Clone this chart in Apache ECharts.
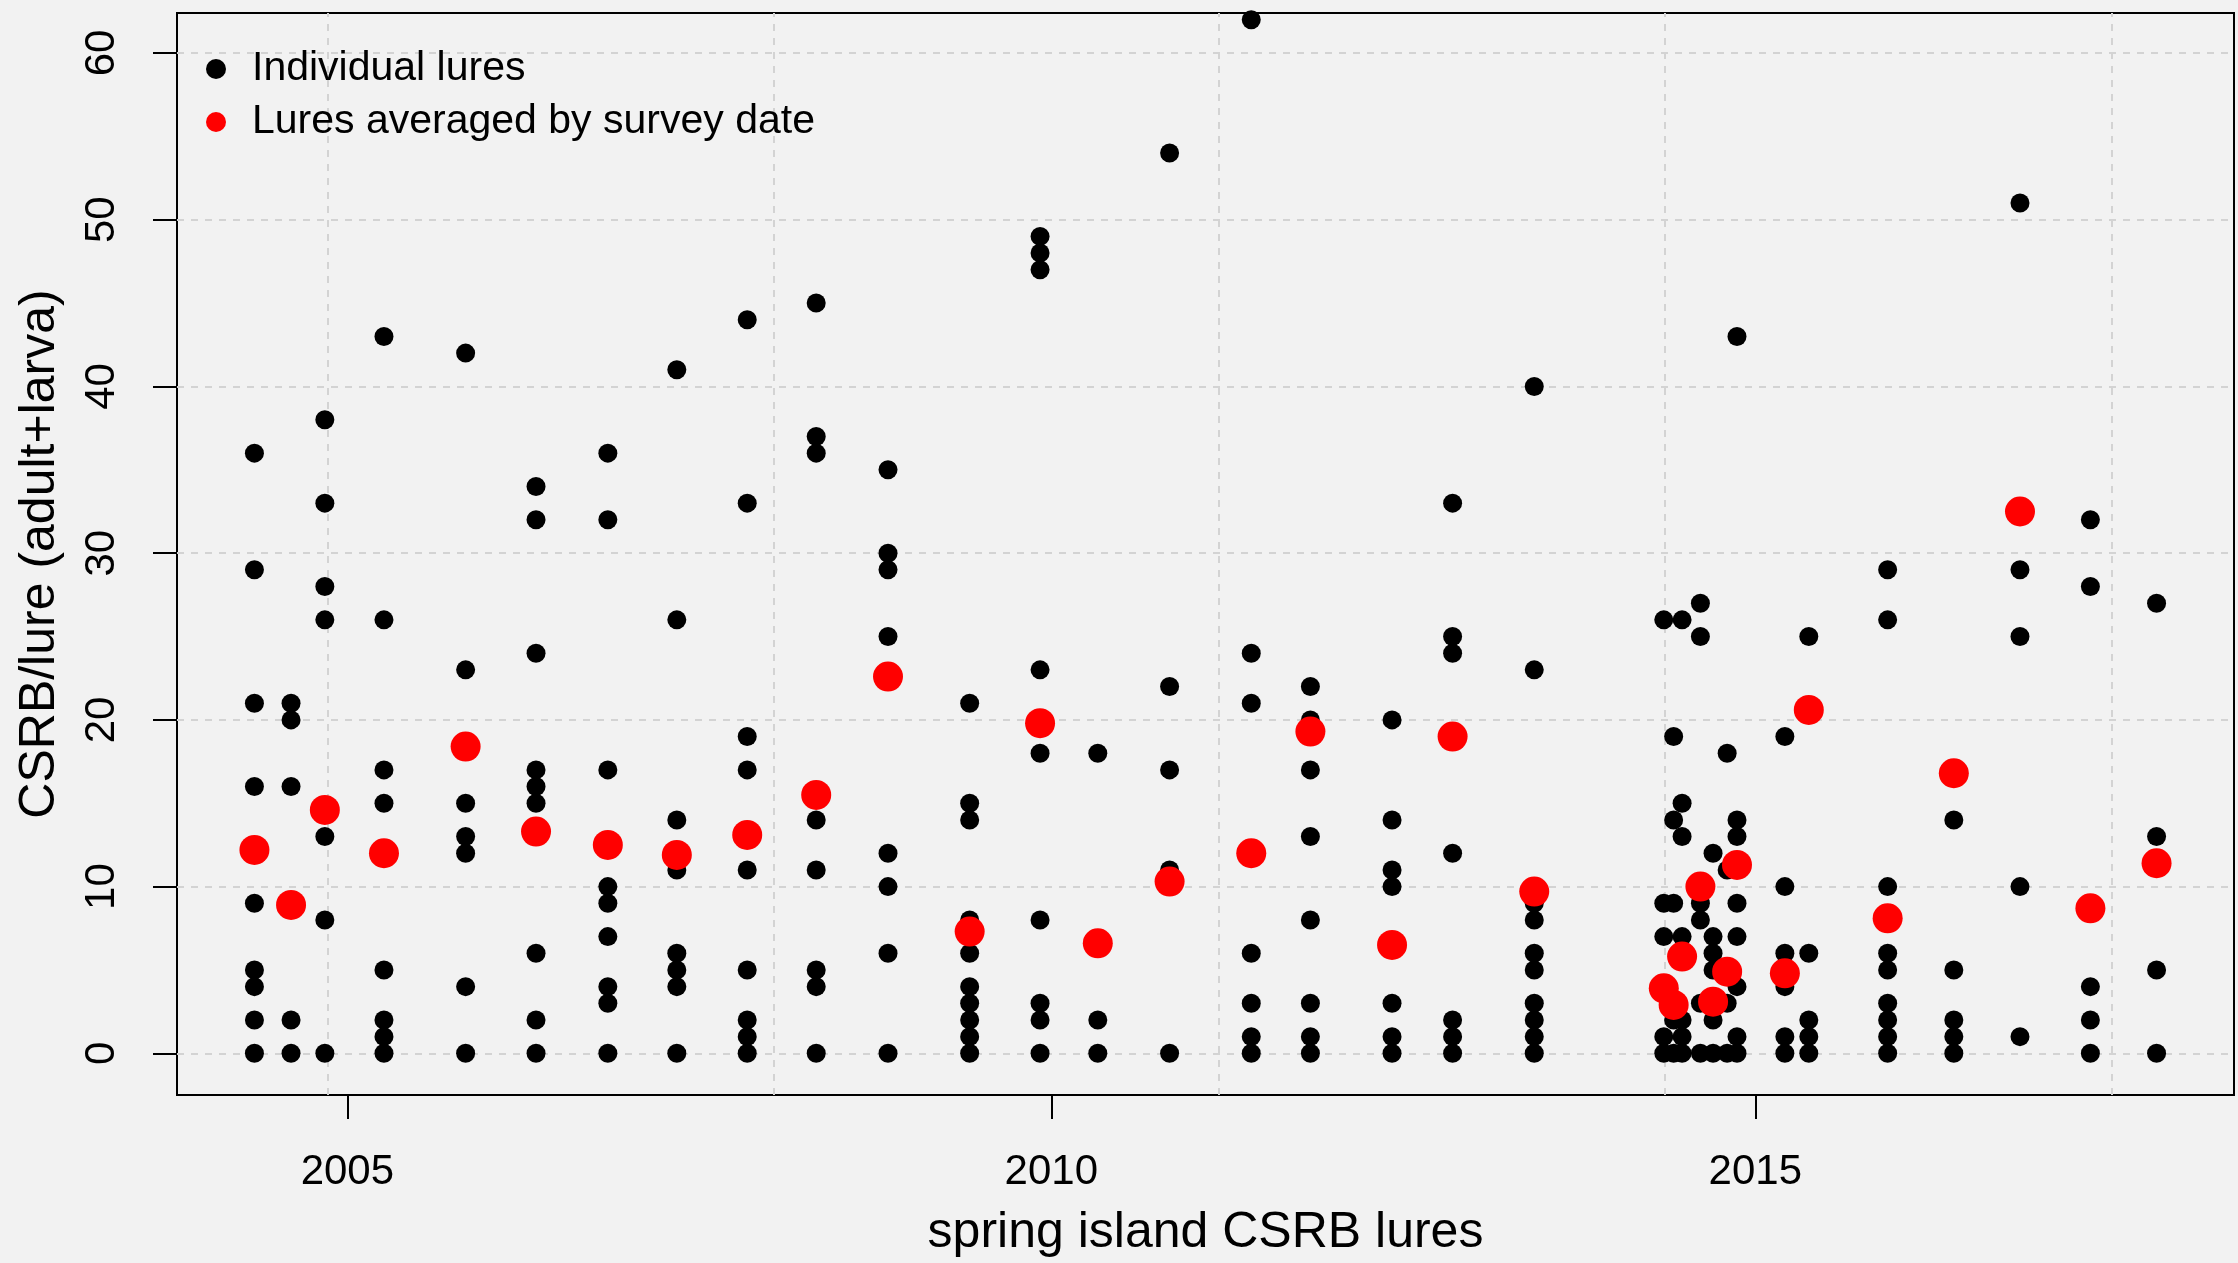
<!DOCTYPE html>
<html>
<head>
<meta charset="utf-8">
<script src="https://cdn.jsdelivr.net/npm/echarts@6/dist/echarts.min.js"></script>
<style>
html,body{margin:0;padding:0;background:#f2f2f2;}
#c{width:2238px;height:1263px;}
</style>
</head>
<body>
<div id="c"></div>
<script>
// Survey dates (decimal years)
const surveyDates = [
  2004.34, 2004.60, 2004.84, 2005.26, 2005.84, 2006.34, 2006.85, 2007.34, 2007.84, 2008.33,
  2008.84, 2009.42, 2009.92, 2010.33, 2010.84, 2011.42, 2011.84, 2012.42, 2012.85, 2013.43,
  2014.35, 2014.42, 2014.48, 2014.61, 2014.70, 2014.80, 2014.87, 2015.21, 2015.38, 2015.94,
  2016.41, 2016.88, 2017.38, 2017.85
];
// Individual lure counts per survey date
const lureCounts = [
  [36, 29, 21, 16, 9, 5, 4, 2, 0],
  [21, 20, 16, 2, 0],
  [38, 33, 28, 26, 13, 8, 0],
  [43, 26, 17, 15, 5, 2, 1, 0],
  [42, 23, 15, 13, 12, 4, 0],
  [34, 32, 24, 17, 16, 15, 6, 2, 0],
  [36, 32, 17, 10, 9, 7, 4, 3, 0],
  [41, 26, 14, 11, 6, 5, 4, 0],
  [44, 33, 19, 17, 11, 5, 2, 1, 0],
  [45, 37, 36, 14, 11, 5, 4, 0],
  [35, 30, 29, 25, 12, 10, 6, 0],
  [21, 15, 14, 8, 6, 4, 3, 2, 1, 0],
  [49, 48, 47, 23, 18, 8, 3, 2, 0],
  [18, 2, 0],
  [54, 22, 17, 11, 0],
  [62, 24, 21, 6, 3, 1, 0],
  [22, 20, 17, 13, 8, 3, 1, 0],
  [20, 14, 11, 10, 3, 1, 0],
  [33, 25, 24, 12, 2, 1, 0],
  [40, 23, 9, 8, 6, 5, 3, 2, 1, 0],
  [26, 9, 7, 1, 0],
  [19, 14, 9, 2, 0],
  [26, 15, 13, 7, 2, 1, 0],
  [27, 25, 9, 8, 3, 0],
  [12, 7, 6, 5, 2, 0],
  [18, 11, 3, 0],
  [43, 14, 13, 9, 7, 4, 1, 0],
  [19, 10, 6, 4, 1, 0],
  [25, 6, 2, 1, 0],
  [29, 26, 10, 6, 5, 3, 2, 1, 0],
  [14, 5, 2, 1, 0],
  [51, 29, 25, 10, 1],
  [32, 28, 4, 2, 0],
  [27, 13, 5, 0]
];
// Lures averaged by survey date
const dateMeans = [
  12.2, 8.9, 14.6, 12.0, 18.4, 13.3, 12.5, 11.9, 13.1, 15.5,
  22.6, 7.3, 19.8, 6.6, 10.3, 12.0, 19.3, 6.5, 19.0, 9.7,
  3.9, 2.9, 5.8, 10.0, 3.1, 4.9, 11.3, 4.8, 20.6, 8.1,
  16.8, 32.5, 8.7, 11.4
];
const xTickValues = [2005, 2010, 2015];
const yTickValues = [0, 10, 20, 30, 40, 50, 60];
const xGridValues = [2004.86, 2008.03, 2011.19, 2014.36, 2017.53];

const seriesNames = ['Individual lures', 'Lures averaged by survey date'];
const xTitle = 'spring island CSRB lures';
const yTitle = 'CSRB/lure (adult+larva)';

const individual = [];
surveyDates.forEach((d, i) => lureCounts[i].forEach(v => individual.push([d, v])));
const averaged = surveyDates.map((d, i) => [d, dateMeans[i]]);

const font = '"Liberation Sans", Arial, sans-serif';
const chart = echarts.init(document.getElementById('c'), null, {renderer: 'canvas', width: 2238, height: 1263});

const legendCommon = {
  left: 206, padding: 0, itemWidth: 62, itemHeight: 20, icon: 'circle',
  selectedMode: false,
  textStyle: {fontSize: 41, color: '#000', fontFamily: font, lineHeight: 44}
};

chart.setOption({
  backgroundColor: '#f2f2f2',
  animation: false,
  textStyle: {fontFamily: font},
  grid: {left: 177, right: 4, top: 13, bottom: 166, show: true, borderColor: '#000', borderWidth: 2, backgroundColor: 'transparent'},
  xAxis: {
    type: 'value', min: 2003.79, max: 2018.40,
    name: xTitle, nameLocation: 'middle', nameGap: 113,
    nameTextStyle: {fontSize: 50, color: '#000', fontFamily: font},
    axisLine: {show: false, onZero: false}, splitLine: {show: false},
    axisTick: {show: true, inside: false, length: 24, lineStyle: {color: '#000', width: 2}, customValues: xTickValues},
    axisLabel: {customValues: xTickValues, fontSize: 42, color: '#000', margin: 56, fontFamily: font, formatter: v => String(v)}
  },
  yAxis: {
    type: 'value', min: -2.5, max: 62.4,
    name: yTitle, nameLocation: 'middle', nameGap: 112, nameRotate: 90,
    nameTextStyle: {fontSize: 50, color: '#000', fontFamily: font},
    axisLine: {show: false, onZero: false}, splitLine: {show: false},
    axisTick: {show: true, inside: false, length: 24, lineStyle: {color: '#000', width: 2}, customValues: yTickValues},
    axisLabel: {customValues: yTickValues, rotate: 90, fontSize: 42, color: '#000', margin: 54, fontFamily: font, formatter: v => String(v)}
  },
  legend: [
    Object.assign({}, legendCommon, {top: 47, data: [seriesNames[0]]}),
    Object.assign({}, legendCommon, {top: 100, data: [seriesNames[1]]})
  ],
  series: [
    {
      type: 'scatter', name: seriesNames[0], data: individual,
      symbol: 'circle', symbolSize: 19, itemStyle: {color: '#000', opacity: 1}, z: 3,
      markLine: {
        silent: true, z: 1, symbol: ['none', 'none'], label: {show: false},
        lineStyle: {color: '#d3d3d3', type: [7, 7], width: 2},
        emphasis: {disabled: true},
        data: [...xGridValues.map(v => ({xAxis: v})), ...yTickValues.map(v => ({yAxis: v}))]
      }
    },
    {
      type: 'scatter', name: seriesNames[1], data: averaged,
      symbol: 'circle', symbolSize: 30, itemStyle: {color: '#ff0000', opacity: 1}, z: 4
    }
  ]
});
</script>
</body>
</html>
